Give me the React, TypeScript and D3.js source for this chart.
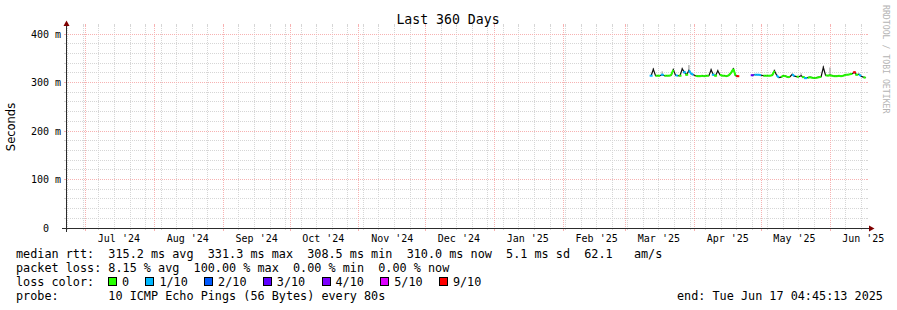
import React from 'react';
import * as d3 from 'd3';

const W = 897;
const H = 310;
const DAY = 86400000;
const END = Date.UTC(2025, 5, 17, 4, 45, 13);
const START = END - 360 * DAY;

const title = 'Last 360 Days';
const yAxisTitle = 'Seconds';
const watermark = 'RRDTOOL / TOBI OETIKER';

const yTicks = [0, 100, 200, 300, 400];
const yTickLabels = ['0', '100 m', '200 m', '300 m', '400 m'];

const lossLabels = ['0', '1/10', '2/10', '3/10', '4/10', '5/10', '9/10'];
const lossColors = ['#26ff00', '#00b8ff', '#0059ff', '#5e00ff', '#7e00ff', '#dd00ff', '#ff0000'];

// Segment 1 (daily medians, ms)
const seg1Start = Date.UTC(2025, 2, 12, 12);
const seg1Values = [314, 327, 314, 314, 314, 316, 314, 314, 314, 315, 326, 315, 314, 314, 328, 321, 316, 325, 318, 316, 314, 313, 313, 314, 313, 314, 314, 326, 316, 314, 324, 316, 314, 314, 313, 315, 320, 328, 314, 313];
const seg1Loss = [1, 2, 0, 0, 0, 1, 0, 0, 0, 0, 0, 1, 1, 0, 2, 1, 0, 1, 1, 1, 0, 0, 0, 0, 0, 0, 0, 2, 1, 0, 2, 0, 0, 0, 0, 0, 0, 0, 0, 6];
const seg1SmokeHi = [315, 330, 315, 315, 315, 323, 315, 315, 315, 316, 329, 316, 315, 315, 331, 324, 317, 336, 320, 317, 315, 314, 314, 315, 314, 315, 315, 329, 317, 315, 327, 317, 315, 315, 314, 316, 322, 330, 315, 314];

// Segment 2
const seg2Start = Date.UTC(2025, 3, 27, 0);
const seg2Values = [315, 316, 316, 316, 315, 314, 314, 314, 314, 315, 324, 315, 310, 311, 314, 313, 311, 312, 317, 313, 312, 312, 314, 311, 309, 310, 311, 310, 309, 310, 311, 312, 331, 315, 314, 315, 314, 313, 313, 314, 313, 314, 316, 316, 317, 318, 321, 316, 317, 313, 311, 310];
const seg2Loss = [3, 1, 1, 1, 1, 0, 0, 0, 0, 0, 0, 1, 1, 0, 0, 0, 0, 0, 1, 1, 0, 0, 2, 0, 1, 0, 0, 0, 0, 0, 0, 0, 2, 0, 0, 0, 0, 0, 0, 0, 0, 0, 0, 0, 0, 0, 6, 0, 1, 1, 0, 0];
const seg2SmokeHi = [316, 317, 317, 317, 316, 315, 315, 315, 315, 316, 327, 316, 311, 312, 315, 314, 312, 313, 318, 314, 313, 313, 319, 312, 310, 311, 312, 311, 310, 311, 312, 313, 334, 316, 315, 331, 315, 314, 314, 315, 314, 315, 317, 317, 318, 319, 323, 317, 318, 314, 312, 311];

const legendLine1 = 'median rtt:  315.2 ms avg  331.3 ms max  308.5 ms min  310.0 ms now  5.1 ms sd  62.1   am/s';
const legendLine2 = 'packet loss: 8.15 % avg  100.00 % max  0.00 % min  0.00 % now';
const legendLine3 = 'loss color:';
const legendLine4 = 'probe:       10 ICMP Echo Pings (56 Bytes) every 80s';
const endText = 'end: Tue Jun 17 04:45:13 2025';

const MONO = "'DejaVu Sans Mono', monospace";

type Pt = { t: number; v: number; loss: number; hi: number };

function buildSeg(start: number, vals: number[], loss: number[], hi: number[]): Pt[] {
  return vals.map((v, i) => ({ t: start + i * DAY, v, loss: loss[i], hi: hi[i] }));
}

export default function App() {
  const x0 = 66, x1 = 866, yTop = 26, yBot = 228;
  const x = d3.scaleUtc().domain([new Date(START), new Date(END)]).range([x0, x1]);
  const y = d3.scaleLinear().domain([0, 400]).range([228, 34]);
  const px = (v: number) => Math.floor(v) + 0.5;

  const minorH = d3.range(20, 420, 20).filter((v) => v % 100 !== 0 && y(v) >= yTop);
  const sundays = d3.utcSunday.range(new Date(START), new Date(END));
  const months = d3.utcMonth.range(new Date(START), new Date(END));
  const labelMonths = d3.utcMonth
    .range(d3.utcMonth.floor(new Date(START)), new Date(END))
    .map((m) => new Date(Date.UTC(m.getUTCFullYear(), m.getUTCMonth(), 16)))
    .filter((d) => +d >= START && +d <= END);
  const fmt = d3.utcFormat("%b '%y");

  const gridC = '#d6d6d6';
  const mgridC = '#f7b2b2';
  const axisC = '#2c2c2c';
  const arrowC = '#7f0000';

  const segs = [buildSeg(seg1Start, seg1Values, seg1Loss, seg1SmokeHi), buildSeg(seg2Start, seg2Values, seg2Loss, seg2SmokeHi)];
  const line = d3.line<Pt>().x((d) => x(new Date(d.t))).y((d) => y(d.v));

  const legendBoxes: { bx: number; label: string; color: string }[] = [];
  let bx = 108;
  lossLabels.forEach((l, i) => {
    legendBoxes.push({ bx, label: l, color: lossColors[i] });
    bx += 14 + l.length * 7.1 + 16.3;
  });

  return (
    <svg width={W} height={H} style={{ position: 'absolute', left: 0, top: 0 }} xmlns="http://www.w3.org/2000/svg">
      <rect x={0} y={0} width={W} height={H} fill="#ffffff" />
      {minorH.map((v) => (
        <g key={'mh' + v}>
          <line x1={x0} x2={x1} y1={px(y(v))} y2={px(y(v))} stroke={gridC} strokeDasharray="1,1" />
          <line x1={x0 - 2} x2={x0} y1={px(y(v))} y2={px(y(v))} stroke={gridC} />
          <line x1={x1} x2={x1 + 2} y1={px(y(v))} y2={px(y(v))} stroke={gridC} />
        </g>
      ))}
      {sundays.map((d) => (
        <g key={'sv' + +d}>
          <line x1={px(x(d))} x2={px(x(d))} y1={yTop} y2={yBot} stroke={gridC} strokeDasharray="1,1" />
          <line x1={px(x(d))} x2={px(x(d))} y1={yBot} y2={yBot + 2} stroke={gridC} />
          <line x1={px(x(d))} x2={px(x(d))} y1={yTop - 2} y2={yTop} stroke={gridC} />
        </g>
      ))}
      {yTicks.filter((v) => v > 0).map((v) => (
        <g key={'Mh' + v}>
          <line x1={x0} x2={x1} y1={px(y(v))} y2={px(y(v))} stroke={mgridC} strokeDasharray="1,1" />
          <line x1={x0 - 2} x2={x0} y1={px(y(v))} y2={px(y(v))} stroke={mgridC} />
          <line x1={x1} x2={x1 + 2} y1={px(y(v))} y2={px(y(v))} stroke={mgridC} />
        </g>
      ))}
      {months.map((d) => (
        <g key={'Mv' + +d}>
          <line x1={px(x(d))} x2={px(x(d))} y1={yTop} y2={yBot} stroke={mgridC} strokeDasharray="1,1" />
          <line x1={px(x(d))} x2={px(x(d))} y1={yBot} y2={yBot + 3} stroke={mgridC} />
          <line x1={px(x(d))} x2={px(x(d))} y1={yTop - 2} y2={yTop} stroke={mgridC} />
        </g>
      ))}

      {segs.map((s, si) =>
        s.map((d, i) => (
          <rect key={'sm' + si + '-' + i} x={x(new Date(d.t)) - 0.75} width={1.5}
            y={y(d.hi)} height={Math.max(0, y(d.v) - y(d.hi))} fill="#b4b4b4" />
        ))
      )}
      {segs.map((s, si) => (
        <path key={'ml' + si} d={line(s) || ''} fill="none" stroke="#101010" strokeWidth={1.2} />
      ))}
      {segs.map((s, si) =>
        s.slice(0, -1).map((d, i) =>
          d.loss === s[i + 1].loss ? (
            <path key={'cl' + si + '-' + i} d={line([d, s[i + 1]]) || ''} fill="none" stroke={lossColors[d.loss]} strokeWidth={2} />
          ) : null
        )
      )}
      {segs.map((s, si) =>
        s.map((d, i) => {
          const prev = s[i - 1], next = s[i + 1];
          const isolated = (!prev || prev.loss !== d.loss) && (!next || next.loss !== d.loss);
          if (!isolated || d.loss === 2) return null;
          return <rect key={'cd' + si + '-' + i} x={x(new Date(d.t)) - 1.5} y={y(d.v) - 1} width={3} height={2} fill={lossColors[d.loss]} />;
        })
      )}

      <line x1={x0 - 4} x2={x1 + 3} y1={px(yBot)} y2={px(yBot)} stroke={axisC} />
      <line x1={px(x0)} x2={px(x0)} y1={yBot + 4} y2={yTop - 1} stroke={axisC} />
      <path d={`M${x0 - 2.5},${yTop} L${x0 + 0.5},${yTop - 5.5} L${x0 + 3.5},${yTop} Z`} fill={arrowC} />
      <path d={`M${x1 + 3},${yBot - 2.5} L${x1 + 8.5},${yBot + 0.5} L${x1 + 3},${yBot + 3.5} Z`} fill={arrowC} />

      {yTicks.map((v, i) => (
        <text key={'yl' + v} x={yTickLabels[i].includes(' ') ? 61 : 49} y={px(y(v)) + 3.5} fontFamily={MONO} fontSize={10}
          textAnchor="end" fill="#000">{yTickLabels[i]}</text>
      ))}
      {labelMonths.map((d) => (
        <text key={'xl' + +d} x={x(d)} y={242} fontFamily={MONO} fontSize={10} textAnchor="middle" fill="#000"
          style={{ whiteSpace: 'pre' }}>{fmt(d)}</text>
      ))}

      <text x={448} y={23.5} fontFamily={MONO} fontSize={13.2} textAnchor="middle" fill="#000">{title}</text>
      <text transform="translate(15,127) rotate(-90)" fontFamily="'DejaVu Sans', sans-serif" fontSize={11.5} textAnchor="middle" fill="#000">{yAxisTitle}</text>
      <text transform="translate(883,5) rotate(90)" fontFamily={MONO} fontSize={8.2} fill="#b4b4b4">{watermark}</text>

      <g fontFamily={MONO} fontSize={11.8} fill="#000" style={{ whiteSpace: 'pre' }}>
        <text x={16} y={257.5} xmlSpace="preserve">{legendLine1}</text>
        <text x={16} y={271.5} xmlSpace="preserve">{legendLine2}</text>
        <text x={16} y={285.5} xmlSpace="preserve">{legendLine3}</text>
        {legendBoxes.map((b) => (
          <g key={'lb' + b.label}>
            <rect x={Math.round(b.bx) + 0.5} y={277.5} width={8} height={8} fill={b.color} stroke="#000" strokeWidth={1} />
            <text x={b.bx + 14} y={285.5}>{b.label}</text>
          </g>
        ))}
        <text x={16} y={299.5} xmlSpace="preserve">{legendLine4}</text>
        <text x={677} y={299.5} xmlSpace="preserve">{endText}</text>
      </g>
    </svg>
  );
}
